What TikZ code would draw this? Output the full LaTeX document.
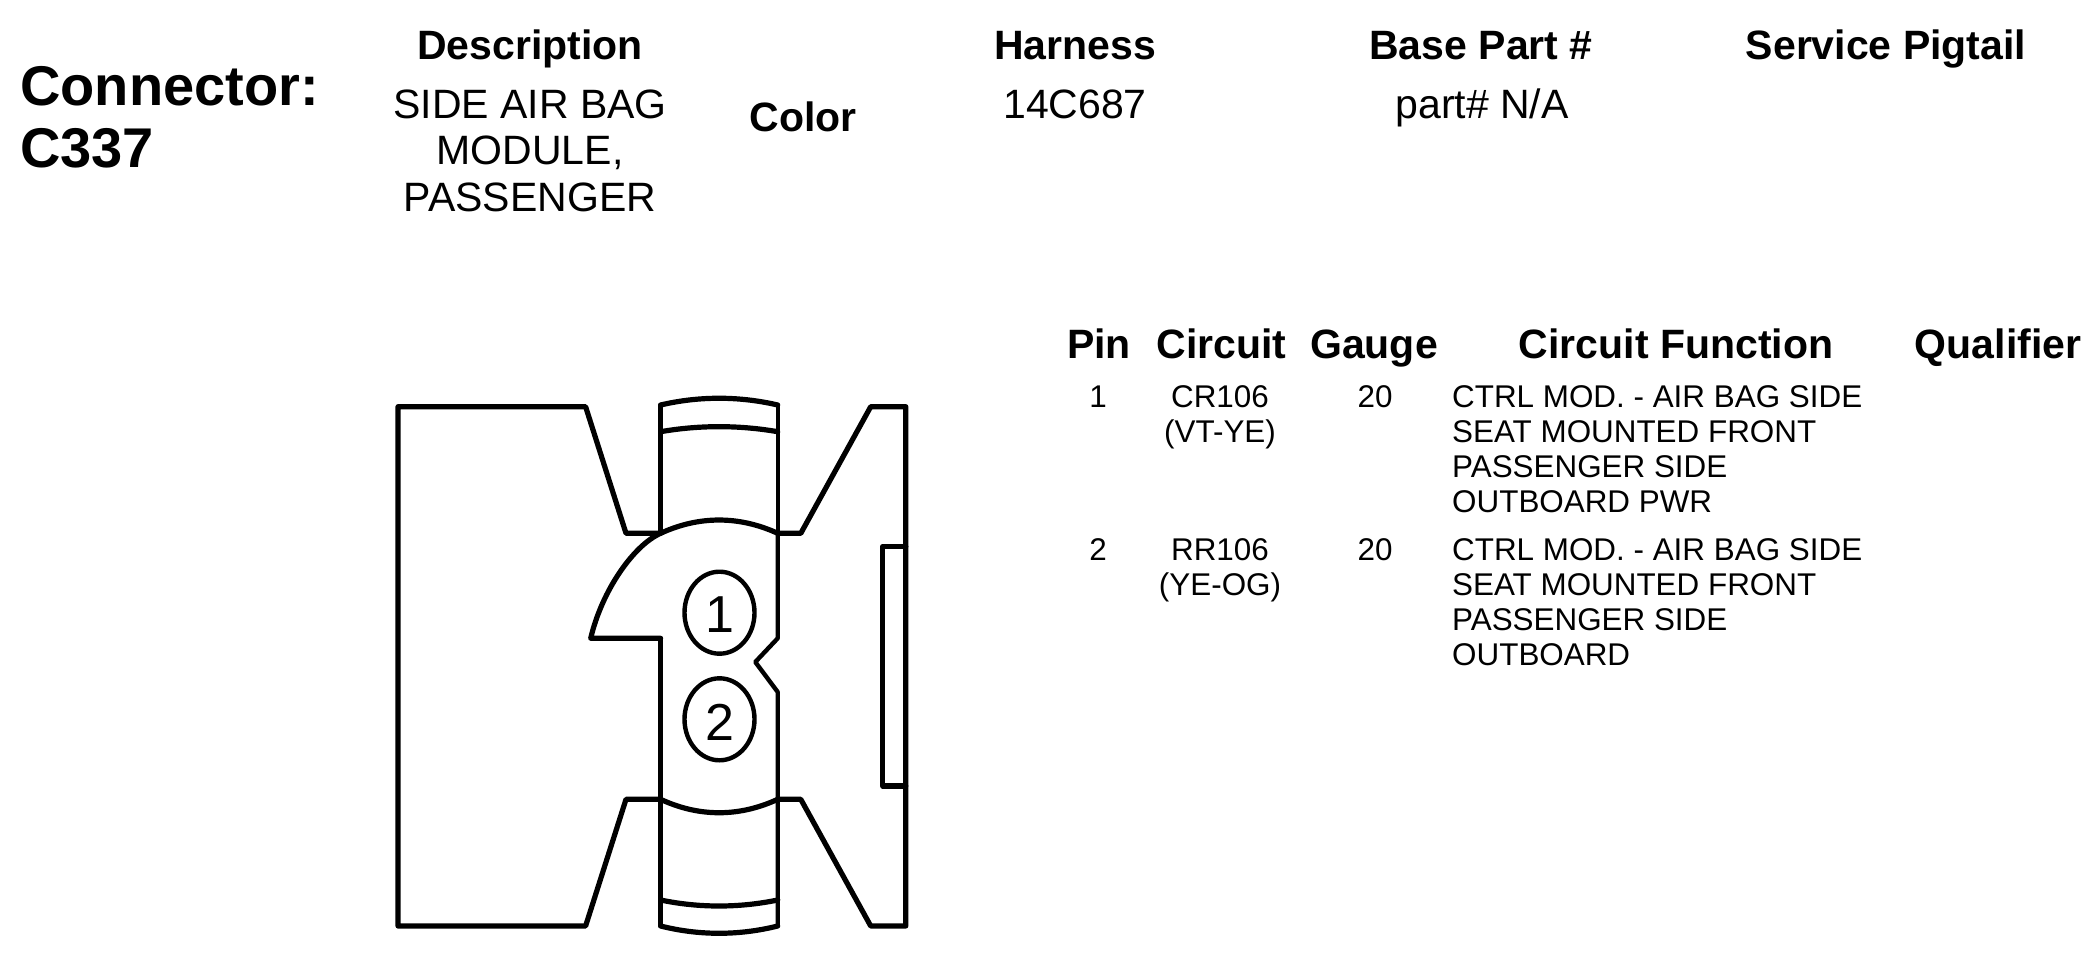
\documentclass[tikz,border=0pt]{standalone}
\usepackage{fontspec}
\usetikzlibrary{shapes.geometric}
\setmainfont{Liberation Sans}
\begin{document}
\begin{tikzpicture}[x=1pt,y=-1pt,
  shape line/.style={line width=5.2pt,line join=round,line cap=round,black},
  thin line/.style={line width=4.4pt,line join=round,line cap=round,black},
  pin ring/.style={draw,ellipse,line width=4.4pt,black,minimum width=70pt,minimum height=82pt,inner sep=0pt},
  bighead/.style={font=\bfseries\fontsize{56}{62}\selectfont,anchor=base west,align=left,inner sep=0pt},
  head/.style={font=\bfseries\fontsize{41}{46}\selectfont,anchor=base,inner sep=0pt},
  body/.style={font=\fontsize{41}{46.7}\selectfont,anchor=base,align=center,inner sep=0pt},
  cell/.style={font=\fontsize{31.4}{35}\selectfont,anchor=base,align=center,inner sep=0pt},
  func/.style={font=\fontsize{31.4}{35}\selectfont,anchor=base west,align=left,inner sep=0pt},
  digit/.style={font=\fontsize{52}{52}\selectfont,anchor=base,inner sep=0pt}]
\useasboundingbox (0,0) rectangle (2100,976);
\fill[white] (0,0) rectangle (2100,976);
% header
\node[bighead] (conn) at (20,167.5) {Connector:\\C337};
\node[head] (hdesc) at (530,60) {Description};
\node[body] (desc) at (530,211.7) {SIDE AIR BAG\\MODULE,\\PASSENGER};
\node[head] (hcolor) at (803,131.5) {Color};
\node[head] (hharn) at (1075,60) {Harness};
\node[body] (harn) at (1075,118.3) {14C687};
\node[head] (hbase) at (1481,60) {Base Part \#};
\node[body] (base) at (1482,118.3) {part\# N/A};
\node[head] (hserv) at (1886,60) {Service Pigtail};
% table
\node[head] (hpin) at (1099,358) {Pin};
\node[head] (hcirc) at (1221.5,358) {Circuit};
\node[head] (hgauge) at (1374,358) {Gauge};
\node[head] (hfunc) at (1676,358) {Circuit Function};
\node[head] (hqual) at (1998,358) {Qualifier};
\node[cell] (p1) at (1098,407.3) {1};
\node[cell] (c1) at (1220,442.3) {CR106\\(VT-YE)};
\node[cell] (g1) at (1375,407.3) {20};
\node[func] (f1) at (1452,512.3) {CTRL MOD. - AIR BAG SIDE\\SEAT MOUNTED FRONT\\PASSENGER SIDE\\OUTBOARD PWR};
\node[cell] (p2) at (1098,560.7) {2};
\node[cell] (c2) at (1220,595.7) {RR106\\(YE-OG)};
\node[cell] (g2) at (1375,560.7) {20};
\node[func] (f2) at (1452,665.7) {CTRL MOD. - AIR BAG SIDE\\SEAT MOUNTED FRONT\\PASSENGER SIDE\\OUTBOARD};
% connector drawing
\draw[shape line] (660.6,533.3) -- (626,533.3) -- (585.6,406.7) -- (398,406.7) -- (398,926) -- (585.6,926) -- (626,799.3) -- (660.6,799.3);
\draw[shape line] (777.7,533.3) -- (800.8,533.3) -- (870.7,406.7) -- (905.8,406.7) -- (905.8,926) -- (870.7,926) -- (800.8,799.3) -- (777.7,799.3);
\draw[shape line] (905.8,546.7) -- (882.8,546.7) -- (882.8,786) -- (905.8,786);
% central column
\draw[thin line] (660.6,533.3) -- (660.6,405) (777.7,533.3) -- (777.7,405);
\draw[thin line] (660.6,638.3) -- (660.6,926);
\draw[thin line] (777.7,533.3) -- (777.7,638.3) -- (755.3,662) -- (777.7,692) -- (777.7,926);
\draw[shape line] (660.6,405) .. controls (699,396) and (739,396) .. (777.7,405);
\draw[shape line] (660.6,431.7) .. controls (699,425) and (739,425) .. (777.7,431.7);
\draw[shape line] (660.6,900) .. controls (699,908) and (739,908) .. (777.7,900);
\draw[shape line] (660.6,926) .. controls (699,935.7) and (739,935.7) .. (777.7,926);
\draw[shape line] (660.6,799.3) .. controls (699,817.2) and (739,817.2) .. (777.7,799.3);
\draw[shape line] (777.7,533.3) .. controls (739,515.6) and (699,515.6) .. (660.6,533.3) .. controls (634,545) and (602,590) .. (590.7,638.3) -- (660.6,638.3);
% pins
\node[pin ring] (ring1) at (719.5,612.7) {};
\node[pin ring] (ring2) at (719.5,719.3) {};
\node[digit] (d1) at (720,632.7) {1};
\node[digit] (d2) at (720,740) {2};
\end{tikzpicture}
\end{document}
